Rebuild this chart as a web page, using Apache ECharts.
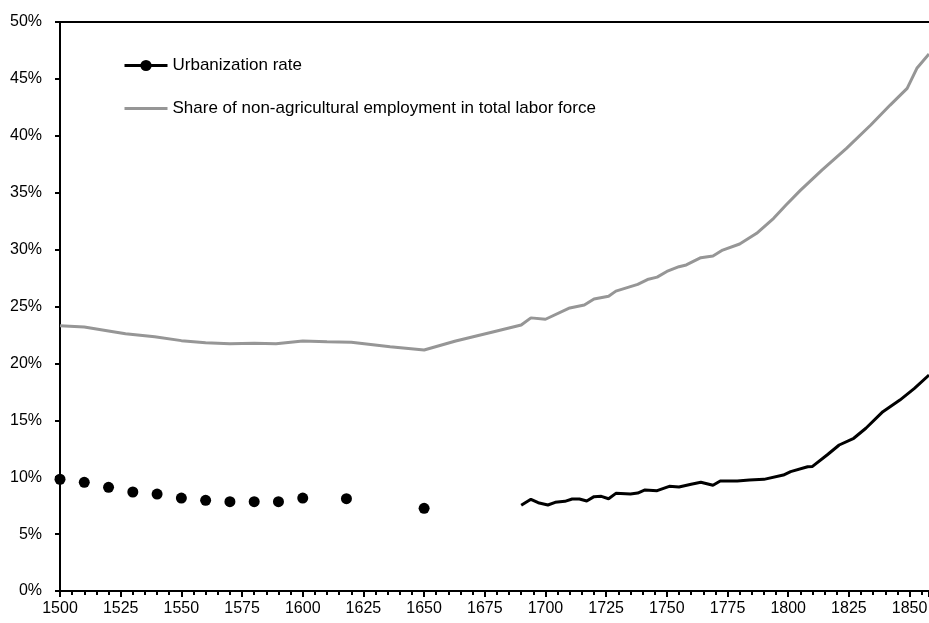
<!DOCTYPE html>
<html>
<head>
<meta charset="utf-8">
<script src="https://cdn.jsdelivr.net/npm/echarts@6/dist/echarts.min.js"></script>
<style>
  html, body { margin: 0; padding: 0; background: #fff; }
  #chart { width: 929px; height: 623px; }
</style>
</head>
<body>
<div id="chart"></div>
<script>
// urbanization rate: separate benchmark dots, then a yearly line
const dotYears = [1500, 1510, 1520, 1530, 1540, 1550, 1560, 1570, 1580, 1590, 1600, 1618, 1650];
const dotValues = [9.82, 9.55, 9.11, 8.7, 8.52, 8.17, 7.97, 7.85, 7.85, 7.85, 8.17, 8.11, 7.27];

const urbYears = [1690, 1694, 1697, 1701, 1704, 1708, 1711, 1714, 1717, 1720, 1723, 1726, 1729, 1735,
  1738, 1741, 1746, 1751, 1755, 1760, 1764, 1769, 1772, 1779, 1784, 1790, 1798, 1801, 1808, 1810,
  1816, 1821, 1827, 1832, 1839, 1846, 1852, 1858];
const urbValues = [7.53, 8.06, 7.76, 7.56, 7.79, 7.88, 8.08, 8.08, 7.91, 8.29, 8.32, 8.11, 8.58, 8.52,
  8.61, 8.88, 8.82, 9.2, 9.14, 9.38, 9.55, 9.29, 9.67, 9.67, 9.75, 9.81, 10.19, 10.49, 10.92, 10.95,
  11.95, 12.83, 13.42, 14.3, 15.76, 16.78, 17.81, 18.98];

// share of non-agricultural employment
const nonAgYears = [1500, 1510, 1520, 1527, 1539, 1550, 1560, 1570, 1580, 1589, 1600, 1610, 1620, 1636,
  1650, 1663, 1677, 1690, 1694, 1700, 1710, 1716, 1720, 1726, 1729, 1738, 1742, 1746, 1750, 1755,
  1758, 1764, 1769, 1773, 1780, 1787, 1794, 1799, 1805, 1814, 1824, 1834, 1842, 1849, 1853, 1858];
const nonAgValues = [23.3, 23.2, 22.85, 22.6, 22.35, 22.0, 21.82, 21.73, 21.78, 21.73, 21.97, 21.9, 21.85, 21.47,
  21.18, 21.97, 22.7, 23.37, 24.0, 23.88, 24.87, 25.13, 25.66, 25.9, 26.35, 26.95, 27.37, 27.58, 28.08, 28.5,
  28.65, 29.29, 29.44, 29.96, 30.49, 31.43, 32.75, 33.9, 35.2, 37.0, 38.9, 40.95, 42.7, 44.17, 45.93, 47.19];

const seriesNames = ['Urbanization rate', 'Share of non-agricultural employment in total labor force'];

let urbData = [];
dotYears.forEach((y, i) => {
  urbData.push([y, dotValues[i]]);
  urbData.push([y + 1, null]);
});
urbYears.forEach((y, i) => {
  urbData.push({ value: [y, urbValues[i]], symbol: 'none' });
});
let nonAgData = nonAgYears.map((y, i) => [y, nonAgValues[i]]);

let myChart = echarts.init(document.getElementById('chart'));
const font = 'Liberation Sans';

myChart.setOption({
  animation: false,
  grid: { left: 60, right: 0, top: 22, bottom: 32, outerBoundsMode: 'none' },
  legend: {
    orient: 'vertical',
    left: 118,
    top: 52,
    itemWidth: 43,
    itemHeight: 14,
    itemGap: 26,
    data: [
      { name: seriesNames[0], lineStyle: { width: 3 } },
      { name: seriesNames[1], lineStyle: { width: 3 }, itemStyle: { color: 'rgba(0,0,0,0)', borderWidth: 0 } }
    ],
    textStyle: { fontFamily: font, fontSize: 17, color: '#000' }
  },
  xAxis: [{
    type: 'value',
    min: 1500,
    max: 1858,
    interval: 25,
    axisLine: { lineStyle: { color: '#000', width: 2 } },
    axisTick: { length: 6, lineStyle: { color: '#000', width: 2 } },
    minorTick: { show: true, splitNumber: 5, length: 4, lineStyle: { color: '#000', width: 2 } },
    axisLabel: {
      margin: 10, fontFamily: font, fontSize: 16, color: '#000',
      showMaxLabel: false,
      formatter: v => String(v)
    },
    splitLine: { show: false }
  }, {
    type: 'value',
    position: 'top',
    min: 1500,
    max: 1858,
    axisLine: { show: true, lineStyle: { color: '#000', width: 2 } },
    axisTick: { show: false },
    axisLabel: { show: false },
    splitLine: { show: false }
  }],
  yAxis: {
    type: 'value',
    min: 0,
    max: 50,
    interval: 5,
    axisLine: { show: true, lineStyle: { color: '#000', width: 2 } },
    axisTick: { show: true, length: 5, lineStyle: { color: '#000', width: 2 } },
    axisLabel: {
      margin: 18, fontFamily: font, fontSize: 16, color: '#000',
      formatter: v => v + '%'
    },
    splitLine: { show: false }
  },
  series: [{
    name: seriesNames[0],
    type: 'line',
    data: urbData,
    symbol: 'circle',
    symbolSize: 11,
    showSymbol: true,
    showAllSymbol: true,
    connectNulls: false,
    itemStyle: { color: '#000' },
    lineStyle: { color: '#000', width: 3 },
    z: 3
  }, {
    name: seriesNames[1],
    type: 'line',
    data: nonAgData,
    symbol: 'none',
    itemStyle: { color: '#969696' },
    lineStyle: { color: '#969696', width: 3 },
    z: 2
  }]
});
</script>
</body>
</html>
